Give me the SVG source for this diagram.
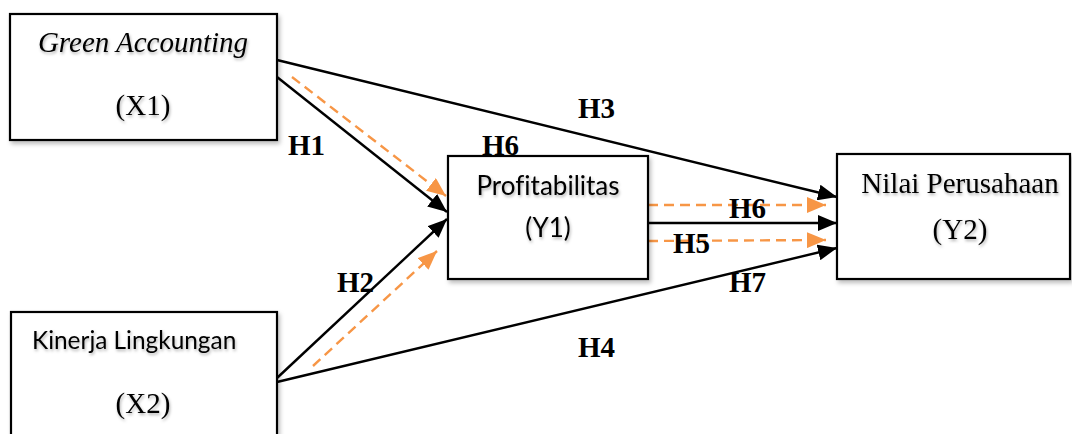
<svg xmlns="http://www.w3.org/2000/svg" width="1072" height="434" viewBox="0 0 1072 434">
<style>
.box{fill:#fff;stroke:#000;stroke-width:2.2;filter:url(#sh)}
.serif{font-family:"Liberation Serif","Times New Roman",serif;font-size:29px;fill:#000}
.sans{font-family:"Lato","Open Sans",sans-serif;font-size:26px;fill:#000;font-variant-ligatures:none}
.sans.sm{font-size:24.4px}
.lbl{font-family:"Liberation Serif","Times New Roman",serif;font-size:29px;font-weight:bold;fill:#000}
.ln{fill:none;stroke:#000;stroke-width:2.4;marker-end:url(#ab)}
.dl{fill:none;stroke:#F79646;stroke-width:2.4;stroke-dasharray:10 6;marker-end:url(#ao)}
.t{filter:url(#ts)}
</style>
<defs>
<filter id="sh" x="-10%" y="-10%" width="130%" height="130%"><feDropShadow dx="2" dy="3" stdDeviation="2" flood-color="#000" flood-opacity="0.25"/></filter>
<filter id="ts" x="-10%" y="-30%" width="130%" height="170%"><feDropShadow dx="1" dy="2" stdDeviation="1.5" flood-color="#000" flood-opacity="0.3"/></filter>
<marker id="ab" markerUnits="userSpaceOnUse" markerWidth="22" markerHeight="16" refX="19" refY="8" orient="auto"><path d="M0,0 L19,8 L0,16 Z" fill="#000"/></marker>
<marker id="ao" markerUnits="userSpaceOnUse" markerWidth="22" markerHeight="16" refX="19" refY="8" orient="auto"><path d="M0,0 L19,8 L0,16 Z" fill="#F79646"/></marker>
</defs>
<g id="connectors">
<path class="ln" d="M277,60 L837,197"/>
<path class="ln" d="M277,77 L447,212"/>
<path class="dl" d="M292,77 L446,196"/>
<path class="ln" d="M277,378 L447,219"/>
<path class="dl" d="M313,366 L437,251"/>
<path class="ln" d="M277,382 L837,248"/>
<path class="ln" d="M648,223 L837,223"/>
<path class="dl" d="M648,205 L826,205"/>
<path class="dl" d="M648,241 L826,240"/>
</g>
<g id="labels">
<text class="lbl" x="578" y="118">H3</text>
<text class="lbl" x="288" y="155">H1</text>
<text class="lbl" x="482" y="155">H6</text>
<text class="lbl" x="729" y="218">H6</text>
<text class="lbl" x="673" y="253">H5</text>
<text class="lbl" x="729" y="292">H7</text>
<text class="lbl" x="337" y="292">H2</text>
<text class="lbl" x="578" y="357">H4</text>
</g>
<g id="x1">
<rect class="box" x="10" y="14" width="267" height="126"/>
<text class="serif t" x="143" y="52" text-anchor="middle" font-style="italic">Green Accounting</text>
<text class="serif t" x="143" y="115" text-anchor="middle">(X1)</text>
</g>
<g id="y1">
<rect class="box" x="448" y="156" width="200" height="123"/>
<text class="sans t" x="548" y="195" text-anchor="middle">Profitabilitas</text>
<text class="sans t" x="548" y="237" text-anchor="middle">(Y1)</text>
</g>
<g id="y2">
<rect class="box" x="837" y="154" width="233" height="125"/>
<text class="serif t" x="960" y="193" text-anchor="middle">Nilai Perusahaan</text>
<text class="serif t" x="960" y="239" text-anchor="middle">(Y2)</text>
</g>
<g id="x2">
<rect class="box" x="11" y="312" width="266" height="140"/>
<text class="sans sm t" x="32" y="349">Kinerja Lingkungan</text>
<text class="serif t" x="143" y="413" text-anchor="middle">(X2)</text>
</g>
</svg>
